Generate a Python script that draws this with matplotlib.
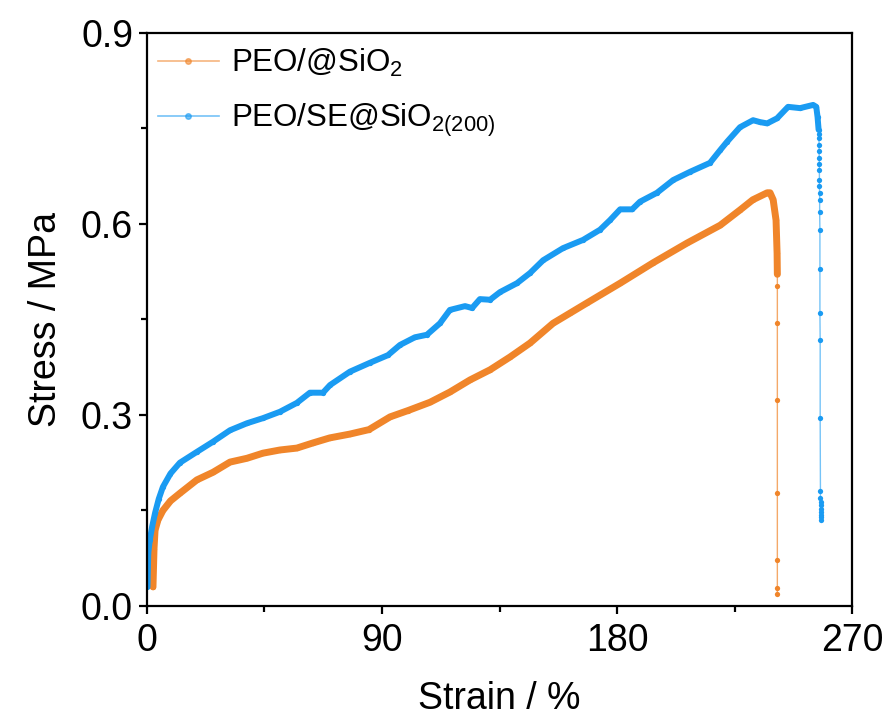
import numpy as np
import matplotlib
matplotlib.use('Agg')
import matplotlib.pyplot as plt

plt.rcParams['font.family'] = ['Liberation Sans', 'DejaVu Sans']
plt.rcParams['mathtext.default'] = 'regular'

# PEO/@SiO2 - dense part of the curve
orangeStrain = [2.3, 2.5, 2.7, 3.1, 4.2, 6.1, 9.0, 12.6, 19.1, 25.3, 31.8, 38.3, 44.4,
                50.9, 57.4, 63.5, 70.0, 77.7, 85.0, 93.1, 100.0, 108.4, 116.0, 123.7,
                131.4, 139.0, 146.7, 155.5, 162.0, 168.5, 181.2, 193.8, 206.8,
                219.5, 227.1, 232.0, 237.5, 238.6, 239.8, 240.9, 241.3, 241.4]
orangeStress = [0.03, 0.06, 0.09, 0.119, 0.135, 0.150, 0.165, 0.177, 0.198, 0.210,
                0.226, 0.232, 0.240, 0.245, 0.248, 0.256, 0.264, 0.270, 0.277, 0.297,
                0.307, 0.320, 0.336, 0.355, 0.371, 0.391, 0.413, 0.444, 0.460, 0.476,
                0.507, 0.539, 0.570, 0.598, 0.622, 0.638, 0.649, 0.649, 0.638, 0.606,
                0.554, 0.521]
# PEO/@SiO2 - break (sparse points)
orangeDropStrain = [241.4, 241.4, 241.4, 241.4, 241.4, 241.4, 241.4]
orangeDropStress = [0.503, 0.444, 0.324, 0.178, 0.072, 0.029, 0.019]

# PEO/SE@SiO2(200) - dense part
blueStrain = [0.2, 0.5, 1.1, 2.0, 3.1, 4.5, 6.1, 9.0, 12.6, 19.1, 25.3, 31.8, 38.3,
              44.4, 50.9, 57.4, 62.4, 67.4, 70.1, 77.7, 85.4, 92.3, 96.9, 102.6,
              107.2, 112.2, 116.0, 121.8, 124.5, 127.5, 131.4, 135.2, 141.7, 146.7,
              151.7, 159.3, 167.0, 173.5, 177.3, 181.2, 185.8, 188.8, 195.3, 201.5,
              208.0, 215.6, 219.5, 222.1, 227.1, 232.1, 234.8, 237.5, 241.3, 245.5,
              250.1, 255.1, 256.3, 256.8, 257.2]
blueStress = [0.03, 0.083, 0.104, 0.125, 0.146, 0.168, 0.187, 0.208, 0.225, 0.242,
              0.258, 0.276, 0.287, 0.295, 0.305, 0.319, 0.335, 0.335, 0.347, 0.368,
              0.382, 0.394, 0.410, 0.422, 0.426, 0.444, 0.465, 0.471, 0.468, 0.482,
              0.481, 0.493, 0.507, 0.523, 0.543, 0.562, 0.575, 0.591, 0.606, 0.623,
              0.623, 0.635, 0.649, 0.669, 0.682, 0.696, 0.716, 0.729, 0.752, 0.763,
              0.760, 0.758, 0.766, 0.784, 0.782, 0.787, 0.784, 0.768, 0.748]
# PEO/SE@SiO2(200) - break
blueDropStrain = [257.3, 257.3, 257.4, 257.4, 257.4, 257.5, 257.5, 257.5, 257.5,
                  257.6, 257.6, 257.6, 257.7, 257.7, 257.7, 257.8, 257.8, 257.9,
                  257.9, 258.0, 258.0, 258.0, 258.1, 258.1, 258.1, 258.1]
blueDropStress = [0.742, 0.735, 0.724, 0.714, 0.703, 0.695, 0.685, 0.669, 0.659,
                  0.648, 0.638, 0.619, 0.590, 0.529, 0.460, 0.417, 0.295, 0.180,
                  0.170, 0.164, 0.158, 0.153, 0.148, 0.143, 0.139, 0.135]

orange = '#F0852A'
blue = '#1A9BF2'

fig = plt.figure(figsize=(8.88, 7.22), dpi=100)
ax = fig.add_axes([0.1655, 0.1607, 0.794, 0.7936])

oxAll = orangeStrain + orangeDropStrain
oyAll = orangeStress + orangeDropStress
bxAll = blueStrain + blueDropStrain
byAll = blueStress + blueDropStress

ax.plot(oxAll, oyAll, '-', color=orange, lw=1.0, alpha=0.7)
ax.plot(oxAll, oyAll, 'o', color=orange, ms=3.8, mew=0)
ax.plot(orangeStrain, orangeStress, '-', color=orange, lw=5, solid_capstyle='round')

ax.plot(bxAll, byAll, '-', color=blue, lw=1.0, alpha=0.6)
ax.plot(bxAll, byAll, 'o', color=blue, ms=3.8, mew=0)
ax.plot(blueStrain, blueStress, '-', color=blue, lw=4.3, solid_capstyle='round')

# legend handles
h1, = ax.plot([], [], '-', color=orange, lw=1.2, alpha=0.6, marker='o', ms=4,
              mfc=orange, mec=orange)
h2, = ax.plot([], [], '-', color=blue, lw=1.2, alpha=0.6, marker='o', ms=4,
              mfc=blue, mec=blue)
leg = ax.legend([h1, h2], ['PEO/@SiO$_2$', 'PEO/SE@SiO$_{2(200)}$'],
                loc='upper left', bbox_to_anchor=(0.0156, 0.975), frameon=False,
                fontsize=22.5, handlelength=1.95, handletextpad=0.39,
                labelspacing=0.72, borderaxespad=0, borderpad=0)

ax.set_xlim(0, 270)
ax.set_ylim(0, 0.9)
ax.set_xticks([0, 90, 180, 270])
ax.set_xticks([45, 135, 225], minor=True)
ax.set_yticks([0.0, 0.3, 0.6, 0.9])
ax.set_yticks([0.15, 0.45, 0.75], minor=True)
ax.set_yticklabels(['0.0', '0.3', '0.6', '0.9'])

for s in ax.spines.values():
    s.set_linewidth(1.6)
ax.tick_params(which='major', direction='out', length=6, width=1.6, labelsize=27,
               top=False, right=False, pad=4)
ax.tick_params(which='minor', direction='out', length=4, width=1.6,
               top=False, right=False)
ax.tick_params(axis='x', which='major', pad=6)

ax.set_xlabel('Strain / %', fontsize=27, labelpad=16)
ax.set_ylabel('Stress / MPa', fontsize=27, labelpad=12)

fig.savefig('out.png', dpi=100)
